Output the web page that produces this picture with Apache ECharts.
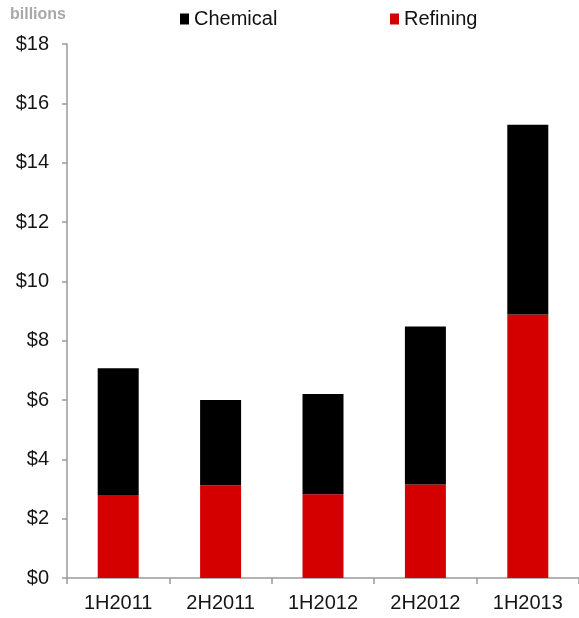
<!DOCTYPE html>
<html>
<head>
<meta charset="utf-8">
<script src="https://cdn.jsdelivr.net/npm/echarts@6/dist/echarts.min.js"></script>
<style>
  html, body { margin: 0; padding: 0; background: #fff; }
  #chart { width: 579px; height: 618px; }
</style>
</head>
<body>
<div id="chart"></div>
<script>
// Half-year periods on the category axis
const periods = ['1H2011', '2H2011', '1H2012', '2H2012', '1H2013'];
// Values in billions of dollars
const refining = [2.8, 3.13, 2.82, 3.15, 8.88];
const chemical = [4.27, 2.87, 3.38, 5.33, 6.4];
// Value axis range
const yMin = 0, yMax = 18, yStep = 2;

const font = 'Liberation Sans, Arial, sans-serif';
const chart = echarts.init(document.getElementById('chart'), null, { renderer: 'canvas' });

const legendBase = {
  top: 9, padding: 0, icon: 'rect',
  itemWidth: 9, itemHeight: 11, itemGap: 5,
  textStyle: { fontSize: 20, color: '#111', fontFamily: font }
};

chart.setOption({
  animation: false,
  backgroundColor: '#fff',
  textStyle: { fontFamily: font },
  graphic: [{
    type: 'text', left: 10, top: 7,
    style: { text: 'billions', fontSize: 16, fontWeight: 'bold', fill: '#a8a8a8', fontFamily: font }
  }],
  legend: [
    Object.assign({ data: ['Chemical'], left: 180 }, legendBase),
    Object.assign({ data: ['Refining'], left: 390 }, legendBase)
  ],
  grid: { left: 67, top: 44, width: 515, bottom: 40, containLabel: false },
  xAxis: {
    type: 'category',
    data: periods,
    axisLine: { lineStyle: { color: '#9a9a9a', width: 1.5 } },
    axisTick: { show: true, length: 6, lineStyle: { color: '#9a9a9a', width: 1.5 } },
    axisLabel: { fontSize: 20, color: '#151515', margin: 15, fontFamily: font }
  },
  yAxis: {
    type: 'value',
    min: yMin, max: yMax, interval: yStep,
    splitLine: { show: false },
    axisLine: { show: true, lineStyle: { color: '#9a9a9a', width: 1.5 } },
    axisTick: { show: true, length: 5, lineStyle: { color: '#9a9a9a', width: 1.5 } },
    axisLabel: { fontSize: 20, color: '#151515', margin: 18, formatter: v => '$' + v, fontFamily: font }
  },
  series: [
    {
      name: 'Refining', type: 'bar', stack: 'total', data: refining,
      barWidth: 41, itemStyle: { color: '#d40000' }
    },
    {
      name: 'Chemical', type: 'bar', stack: 'total', data: chemical,
      barWidth: 41, itemStyle: { color: '#000000' }
    }
  ]
});
</script>
</body>
</html>
